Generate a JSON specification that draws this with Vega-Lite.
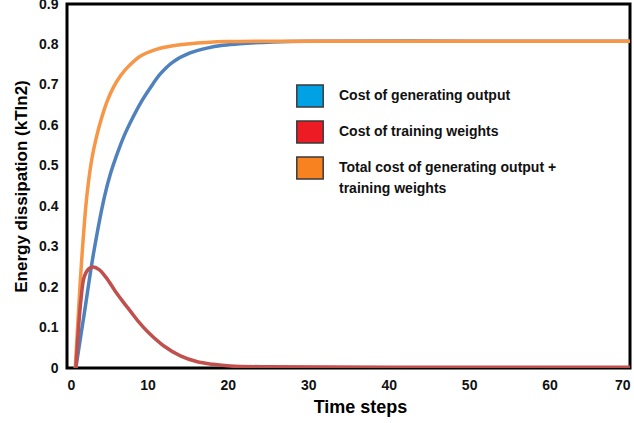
{
  "$schema": "https://vega.github.io/schema/vega-lite/v6.json",
  "width": 563,
  "height": 364,
  "autosize": {"type": "none"},
  "padding": {"left": 67, "top": 4, "right": 4, "bottom": 55},
  "background": "white",
  "config": {
    "view": {"stroke": "#000000", "strokeWidth": 3},
    "font": "Liberation Sans",
    "axis": {"grid": false, "ticks": false, "domain": false, "labelFont": "Liberation Sans", "labelFontWeight": "bold", "labelFontSize": 14, "labelColor": "#111111", "titleFont": "Liberation Sans", "titleFontWeight": "bold", "titleColor": "#000000"}
  },
  "datasets": {
    "curves": [
      {"series": "Cost of generating output", "t": 1.1, "e": 0},
      {"series": "Cost of generating output", "t": 1.6, "e": 0.065},
      {"series": "Cost of generating output", "t": 2.15, "e": 0.135},
      {"series": "Cost of generating output", "t": 3.27, "e": 0.28},
      {"series": "Cost of generating output", "t": 4.64, "e": 0.422},
      {"series": "Cost of generating output", "t": 5.4, "e": 0.48},
      {"series": "Cost of generating output", "t": 6.1, "e": 0.522},
      {"series": "Cost of generating output", "t": 7.1, "e": 0.574},
      {"series": "Cost of generating output", "t": 8.2, "e": 0.62},
      {"series": "Cost of generating output", "t": 9.2, "e": 0.657},
      {"series": "Cost of generating output", "t": 10.3, "e": 0.691},
      {"series": "Cost of generating output", "t": 11.6, "e": 0.727},
      {"series": "Cost of generating output", "t": 13.2, "e": 0.757},
      {"series": "Cost of generating output", "t": 15.3, "e": 0.779},
      {"series": "Cost of generating output", "t": 17.4, "e": 0.791},
      {"series": "Cost of generating output", "t": 19.4, "e": 0.798},
      {"series": "Cost of generating output", "t": 21.5, "e": 0.802},
      {"series": "Cost of generating output", "t": 25.6, "e": 0.806},
      {"series": "Cost of generating output", "t": 30, "e": 0.808},
      {"series": "Cost of generating output", "t": 50, "e": 0.808},
      {"series": "Cost of generating output", "t": 70, "e": 0.808},
      {"series": "Total cost of generating output + training weights", "t": 1.03, "e": 0},
      {"series": "Total cost of generating output + training weights", "t": 1.4, "e": 0.13},
      {"series": "Total cost of generating output + training weights", "t": 1.87, "e": 0.28},
      {"series": "Total cost of generating output + training weights", "t": 2.45, "e": 0.422},
      {"series": "Total cost of generating output + training weights", "t": 3.07, "e": 0.515},
      {"series": "Total cost of generating output + training weights", "t": 3.6, "e": 0.566},
      {"series": "Total cost of generating output + training weights", "t": 4.3, "e": 0.618},
      {"series": "Total cost of generating output + training weights", "t": 5.0, "e": 0.66},
      {"series": "Total cost of generating output + training weights", "t": 5.8, "e": 0.695},
      {"series": "Total cost of generating output + training weights", "t": 6.7, "e": 0.724},
      {"series": "Total cost of generating output + training weights", "t": 7.7, "e": 0.747},
      {"series": "Total cost of generating output + training weights", "t": 9.1, "e": 0.771},
      {"series": "Total cost of generating output + training weights", "t": 11.1, "e": 0.788},
      {"series": "Total cost of generating output + training weights", "t": 13.2, "e": 0.797},
      {"series": "Total cost of generating output + training weights", "t": 15.3, "e": 0.802},
      {"series": "Total cost of generating output + training weights", "t": 17.4, "e": 0.805},
      {"series": "Total cost of generating output + training weights", "t": 20, "e": 0.807},
      {"series": "Total cost of generating output + training weights", "t": 24, "e": 0.808},
      {"series": "Total cost of generating output + training weights", "t": 40, "e": 0.808},
      {"series": "Total cost of generating output + training weights", "t": 70, "e": 0.808},
      {"series": "Cost of training weights", "t": 1.1, "e": 0},
      {"series": "Cost of training weights", "t": 1.4, "e": 0.09},
      {"series": "Cost of training weights", "t": 1.74, "e": 0.17},
      {"series": "Cost of training weights", "t": 2.15, "e": 0.226},
      {"series": "Cost of training weights", "t": 2.7, "e": 0.245},
      {"series": "Cost of training weights", "t": 3.3, "e": 0.25},
      {"series": "Cost of training weights", "t": 4.0, "e": 0.243},
      {"series": "Cost of training weights", "t": 4.85, "e": 0.224},
      {"series": "Cost of training weights", "t": 6.0, "e": 0.19},
      {"series": "Cost of training weights", "t": 7.0, "e": 0.163},
      {"series": "Cost of training weights", "t": 7.9, "e": 0.14},
      {"series": "Cost of training weights", "t": 9.0, "e": 0.112},
      {"series": "Cost of training weights", "t": 10, "e": 0.09},
      {"series": "Cost of training weights", "t": 12, "e": 0.055},
      {"series": "Cost of training weights", "t": 14.1, "e": 0.03},
      {"series": "Cost of training weights", "t": 16.1, "e": 0.016},
      {"series": "Cost of training weights", "t": 18.2, "e": 0.009},
      {"series": "Cost of training weights", "t": 20.3, "e": 0.005},
      {"series": "Cost of training weights", "t": 25, "e": 0.003},
      {"series": "Cost of training weights", "t": 40, "e": 0.002},
      {"series": "Cost of training weights", "t": 70, "e": 0.002}
    ],
    "keys": [
      {"series": "Cost of generating output"},
      {"series": "Cost of training weights"},
      {"series": "Total cost of generating output + training weights"}
    ]
  },
  "layer": [
    {
      "data": {"name": "curves"},
      "mark": {"type": "line", "interpolate": "catmull-rom", "strokeWidth": 3.5, "clip": true},
      "encoding": {
        "x": {"field": "t", "type": "quantitative", "scale": {"domain": [0, 70], "nice": false}, "axis": {"values": [0, 10, 20, 30, 40, 50, 60, 70], "labelPadding": 10, "title": "Time steps", "titleFontSize": 18, "titlePadding": 6, "titleX": 293}},
        "y": {"field": "e", "type": "quantitative", "scale": {"domain": [0, 0.9], "nice": false}, "axis": {"values": [0, 0.1, 0.2, 0.3, 0.4, 0.5, 0.6, 0.7, 0.8, 0.9], "format": ".1~f", "labelPadding": 9, "title": "Energy dissipation (kTln2)", "titleFontSize": 17, "titlePadding": 8}},
        "color": {"field": "series", "type": "nominal", "scale": {"domain": ["Cost of generating output", "Cost of training weights", "Total cost of generating output + training weights"], "range": ["#4F81BD", "#C0504D", "#F79646"]}, "legend": null}
      }
    },
    {
      "data": {"name": "keys"},
      "mark": {"type": "square", "opacity": 0},
      "encoding": {
        "color": {"field": "series", "type": "nominal", "scale": {"domain": ["Cost of generating output", "Cost of training weights", "Total cost of generating output + training weights"], "range": ["#00A2E3", "#ED1C24", "#F7821F"]},
          "legend": {"title": null, "orient": "none", "legendX": 231, "legendY": 80, "symbolType": "M-1.2,-1H1.2V1H-1.2Z", "symbolSize": 484, "symbolOpacity": 1, "symbolStrokeColor": "#3a3a3a", "symbolStrokeWidth": 1.5, "labelFont": "Liberation Sans", "labelFontWeight": "bold", "labelFontSize": 14, "labelColor": "#111111", "labelOffset": 17, "labelLimit": 400, "rowPadding": 8,
            "labelExpr": "datum.label == 'Total cost of generating output + training weights' ? ['Total cost of generating output +', 'training weights'] : datum.label",
            "encode": {"labels": {"update": {"lineHeight": {"value": 21}}}}}}
      }
    }
  ],
  "resolve": {"scale": {"color": "independent"}}
}
